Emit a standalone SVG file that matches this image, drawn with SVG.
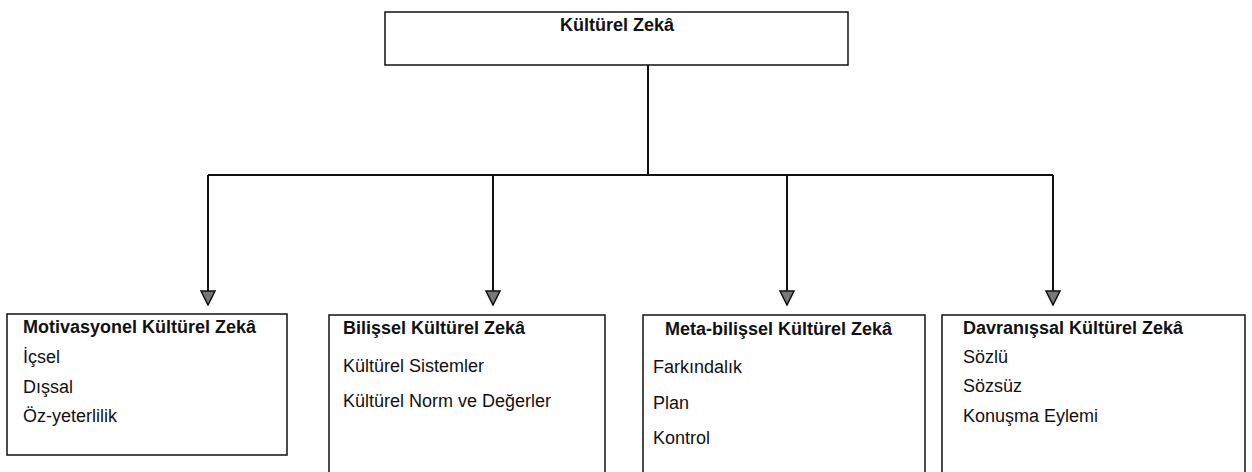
<svg xmlns="http://www.w3.org/2000/svg" width="1252" height="472" viewBox="0 0 1252 472">
<style>
.box{fill:#fff;stroke:#111;stroke-width:1.5}
.t{font-family:"Liberation Sans",Arial,sans-serif;font-size:18px;font-weight:bold;fill:#111}
.i{font-family:"Liberation Sans",Arial,sans-serif;font-size:18px;fill:#111}
.c{fill:none;stroke:#111;stroke-width:2}
</style>
<defs>
<marker id="ah" markerWidth="16" markerHeight="16" refX="8" refY="15" orient="0" markerUnits="userSpaceOnUse" viewBox="0 0 16 16">
<path d="M1,1 L15,1 L8,15 Z" fill="#777" stroke="#111" stroke-width="1.5"/>
</marker>
</defs>
<rect width="1252" height="472" fill="#fff"/>
<g id="connectors">
<path class="c" d="M648,65 V175"/>
<path class="c" d="M208,175 H1053"/>
<path class="c" d="M208,175 V305" marker-end="url(#ah)"/>
<path class="c" d="M493,175 V305" marker-end="url(#ah)"/>
<path class="c" d="M787,175 V305" marker-end="url(#ah)"/>
<path class="c" d="M1053,175 V305" marker-end="url(#ah)"/>
</g>
<g id="root">
<rect class="box" x="385" y="12" width="463" height="53"/>
<text class="t" x="617" y="31" text-anchor="middle">Kültürel Zekâ</text>
</g>
<g id="motivasyonel">
<rect class="box" x="7" y="314" width="280" height="141"/>
<text class="t" x="23" y="333">Motivasyonel Kültürel Zekâ</text>
<text class="i" x="23" y="363">İçsel</text>
<text class="i" x="23" y="393">Dışsal</text>
<text class="i" x="23" y="422">Öz-yeterlilik</text>
</g>
<g id="bilissel">
<rect class="box" x="329" y="315" width="276" height="170"/>
<text class="t" x="343" y="334">Bilişsel Kültürel Zekâ</text>
<text class="i" x="343" y="372">Kültürel Sistemler</text>
<text class="i" x="343" y="407">Kültürel Norm ve Değerler</text>
</g>
<g id="metabilissel">
<rect class="box" x="643" y="315" width="282" height="170"/>
<text class="t" x="665" y="335">Meta-bilişsel Kültürel Zekâ</text>
<text class="i" x="653" y="373">Farkındalık</text>
<text class="i" x="653" y="409">Plan</text>
<text class="i" x="653" y="444">Kontrol</text>
</g>
<g id="davranissal">
<rect class="box" x="942" y="315" width="303" height="170"/>
<text class="t" x="963" y="334">Davranışsal Kültürel Zekâ</text>
<text class="i" x="963" y="363">Sözlü</text>
<text class="i" x="963" y="392">Sözsüz</text>
<text class="i" x="963" y="422">Konuşma Eylemi</text>
</g>
</svg>
